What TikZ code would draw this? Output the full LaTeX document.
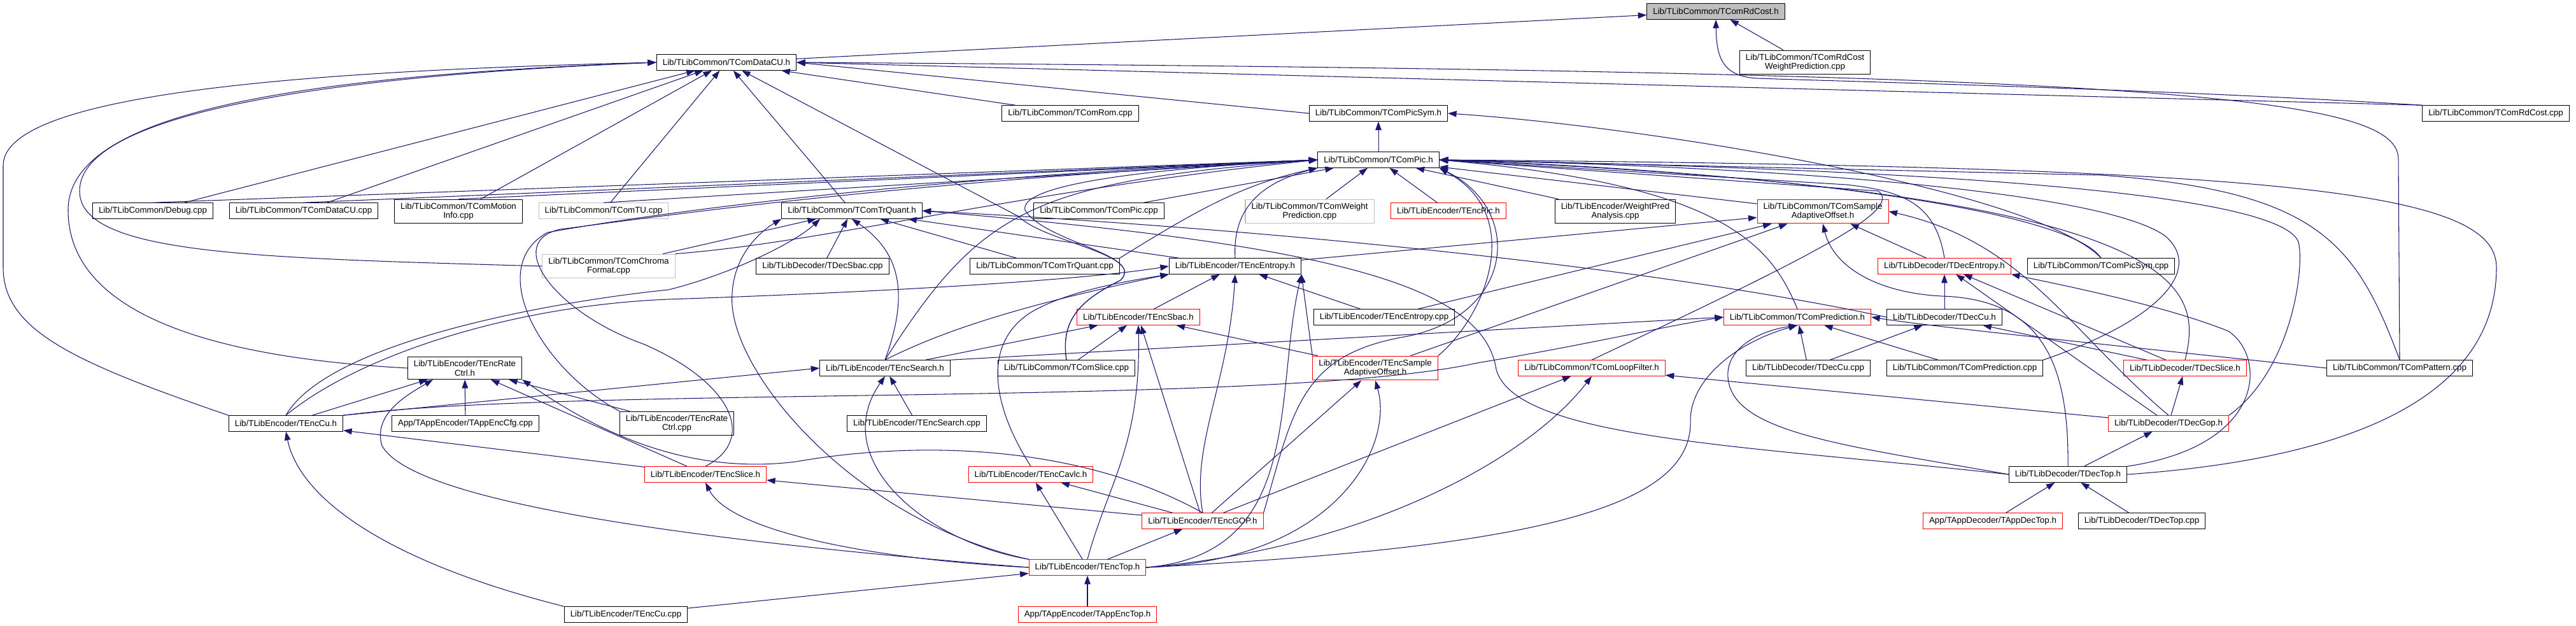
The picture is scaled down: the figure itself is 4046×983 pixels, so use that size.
\documentclass[tikz,border=0pt]{standalone}
\usepackage{fontspec}
\setmainfont{Liberation Sans}
\usepackage{xcolor}
\usepackage{tikz}
\usetikzlibrary{arrows.meta}
\definecolor{DGEdge}{HTML}{191970}
\definecolor{DGRoot}{HTML}{BFBFBF}
\definecolor{DGTrunc}{HTML}{FF0000}
\definecolor{DGNoDoc}{HTML}{BFBFBF}

\begin{document}
\begin{tikzpicture}[
  x=0.02cm, y=-0.02cm,
  box/.style={draw=black,line width=0.6pt,fill=white,font=\fontsize{7.6}{8.4}\selectfont,
              align=center,inner xsep=0.19cm,inner ysep=3pt,minimum height=0.49cm},
  root/.style={box,fill=DGRoot},
  trunc/.style={box,draw=DGTrunc},
  nodoc/.style={box,draw=DGNoDoc},
  dep/.style={-{Triangle[length=0.27cm,width=0.19cm]},line width=0.6pt,draw=DGEdge}
]
\useasboundingbox (0,0) rectangle (4046,983);
\node[root] (rdh) at (2695,18) {Lib/TLibCommon/TComRdCost.h};
\node[box] (rdwp) at (2835,98) {Lib/TLibCommon/TComRdCost\\WeightPrediction.cpp};
\node[box] (dcuh) at (1141,98) {Lib/TLibCommon/TComDataCU.h};
\node[box] (rom) at (1681,178) {Lib/TLibCommon/TComRom.cpp};
\node[box] (picsymh) at (2165,178) {Lib/TLibCommon/TComPicSym.h};
\node[box] (rdcpp) at (3920,178) {Lib/TLibCommon/TComRdCost.cpp};
\node[box] (pich) at (2165,251) {Lib/TLibCommon/TComPic.h};
\node[box] (debug) at (240,331) {Lib/TLibCommon/Debug.cpp};
\node[box] (dcucpp) at (477,331) {Lib/TLibCommon/TComDataCU.cpp};
\node[box] (motion) at (720,332) {Lib/TLibCommon/TComMotion\\Info.cpp};
\node[nodoc] (tu) at (948,331) {Lib/TLibCommon/TComTU.cpp};
\node[box] (trqh) at (1338,331) {Lib/TLibCommon/TComTrQuant.h};
\node[box] (piccpp) at (1726,331) {Lib/TLibCommon/TComPic.cpp};
\node[nodoc] (wpcpp) at (2057,332) {Lib/TLibCommon/TComWeight\\Prediction.cpp};
\node[trunc] (encpic) at (2275,331) {Lib/TLibEncoder/TEncPic.h};
\node[box] (wpa) at (2537,332) {Lib/TLibEncoder/WeightPred\\Analysis.cpp};
\node[trunc] (saoh) at (2863,332) {Lib/TLibCommon/TComSample\\AdaptiveOffset.h};
\node[nodoc] (chroma) at (956,418) {Lib/TLibCommon/TComChroma\\Format.cpp};
\node[box] (decsbac) at (1292,418) {Lib/TLibDecoder/TDecSbac.cpp};
\node[box] (trqcpp) at (1641,418) {Lib/TLibCommon/TComTrQuant.cpp};
\node[box] (entropyh) at (1940,418) {Lib/TLibEncoder/TEncEntropy.h};
\node[trunc] (decentropy) at (3054,418) {Lib/TLibDecoder/TDecEntropy.h};
\node[box] (picsymcpp) at (3300,418) {Lib/TLibCommon/TComPicSym.cpp};
\node[trunc] (sbach) at (1788,498) {Lib/TLibEncoder/TEncSbac.h};
\node[box] (entropycpp) at (2174,498) {Lib/TLibEncoder/TEncEntropy.cpp};
\node[trunc] (predh) at (2823,498) {Lib/TLibCommon/TComPrediction.h};
\node[box] (deccuh) at (3054,498) {Lib/TLibDecoder/TDecCu.h};
\node[box] (ratectrlh) at (730,578) {Lib/TLibEncoder/TEncRate\\Ctrl.h};
\node[box] (searchh) at (1390,578) {Lib/TLibEncoder/TEncSearch.h};
\node[box] (slicecpp) at (1675,578) {Lib/TLibCommon/TComSlice.cpp};
\node[trunc] (encsao) at (2160,578) {Lib/TLibEncoder/TEncSample\\AdaptiveOffset.h};
\node[trunc] (loopf) at (2500,578) {Lib/TLibCommon/TComLoopFilter.h};
\node[box] (deccucpp) at (2840,578) {Lib/TLibDecoder/TDecCu.cpp};
\node[box] (predcpp) at (3086,578) {Lib/TLibCommon/TComPrediction.cpp};
\node[trunc] (decslice) at (3432,578) {Lib/TLibDecoder/TDecSlice.h};
\node[box] (pattern) at (3769,578) {Lib/TLibCommon/TComPattern.cpp};
\node[box] (enccuh) at (449,665) {Lib/TLibEncoder/TEncCu.h};
\node[box] (appcfg) at (731,665) {App/TAppEncoder/TAppEncCfg.cpp};
\node[box] (ratectrlcpp) at (1063,665) {Lib/TLibEncoder/TEncRate\\Ctrl.cpp};
\node[box] (searchcpp) at (1440,665) {Lib/TLibEncoder/TEncSearch.cpp};
\node[trunc] (decgop) at (3406,665) {Lib/TLibDecoder/TDecGop.h};
\node[trunc] (encslice) at (1108,745) {Lib/TLibEncoder/TEncSlice.h};
\node[trunc] (cavlc) at (1619,745) {Lib/TLibEncoder/TEncCavlc.h};
\node[box] (dectop) at (3248,745) {Lib/TLibDecoder/TDecTop.h};
\node[trunc] (encgop) at (1889,818) {Lib/TLibEncoder/TEncGOP.h};
\node[trunc] (appdectop) at (3130,818) {App/TAppDecoder/TAppDecTop.h};
\node[box] (dectopcpp) at (3364,818) {Lib/TLibDecoder/TDecTop.cpp};
\node[trunc] (enctop) at (1708,891) {Lib/TLibEncoder/TEncTop.h};
\node[box] (enccucpp) at (983,965) {Lib/TLibEncoder/TEncCu.cpp};
\node[trunc] (appenctop) at (1708,965) {App/TAppEncoder/TAppEncTop.h};
\draw[dep] (dcuh) -- (rdh);
\draw[dep] (rdwp) -- (rdh);
\draw[dep] (rdcpp.north west) .. controls (3400,140) and (2900,128) .. (2760,123) .. controls (2705,120) and (2696,90) .. (rdh.south);
\draw[dep] (debug) -- (dcuh);
\draw[dep] (dcucpp) -- (dcuh);
\draw[dep] (motion) -- (dcuh);
\draw[dep] (tu) -- (dcuh);
\draw[dep] (trqh) -- (dcuh);
\draw[dep] (rom) -- (dcuh);
\draw[dep] (picsymh.west) -- (dcuh.east);
\draw[dep] (rdcpp.north west) -- (dcuh.east);
\draw[dep] (pattern.north) -- (3767,250) .. controls (3767,150) and (3400,112) .. (dcuh.east);
\draw[dep] (chroma.west) .. controls (400,405) and (125,400) .. (125,300) .. controls (125,180) and (500,120) .. (dcuh.west);
\draw[dep] (ratectrlh.west) .. controls (300,560) and (107,480) .. (107,330) .. controls (107,180) and (450,120) .. (dcuh.west);
\draw[dep] (enccuh.north west) .. controls (120,570) and (5,520) .. (5,420) -- (5,260) .. controls (5,150) and (450,112) .. (dcuh.west);
\draw[dep] (slicecpp.north) .. controls (1665,500) and (1700,470) .. (1760,440) .. controls (1800,400) and (1640,380) .. (1600,340) -- (dcuh);
\draw[dep] (pich) -- (picsymh);
\draw[dep] (picsymcpp.north) .. controls (3200,300) and (2600,200) .. (picsymh.east);
\draw[dep] (debug.north) -- (pich.west);
\draw[dep] (dcucpp.north) -- (pich.west);
\draw[dep] (motion.north) -- (pich.west);
\draw[dep] (tu.north) -- (pich.west);
\draw[dep] (chroma.north east) .. controls (1300,380) and (1600,300) .. (pich.west);
\draw[dep] (ratectrlcpp.north west) .. controls (850,580) and (760,420) .. (860,365) .. controls (1000,340) and (1400,280) .. (pich.west);
\draw[dep] (encslice.north) .. controls (1190,690) and (1150,600) .. (1010,540) .. controls (870,490) and (790,380) .. (880,360) .. controls (1000,345) and (1400,285) .. (pich.west);
\draw[dep] (piccpp) -- (pich);
\draw[dep] (wpcpp) -- (pich);
\draw[dep] (encpic) -- (pich);
\draw[dep] (wpa) -- (pich);
\draw[dep] (saoh) -- (pich);
\draw[dep] (trqcpp.north east) .. controls (1880,330) and (1950,290) .. (pich.south west);
\draw[dep] (entropyh.north) .. controls (1935,320) and (1990,285) .. (pich.south west);
\draw[dep] (searchh.north) .. controls (1540,330) and (1620,285) .. (pich.west);
\draw[dep] (slicecpp.north) .. controls (1665,500) and (1700,470) .. (1760,440) .. controls (1800,400) and (1640,380) .. (1610,330) .. controls (1600,290) and (1800,265) .. (pich.west);
\draw[dep] (encsao.north east) .. controls (2330,500) and (2400,340) .. (pich.south east);
\draw[dep] (encgop.north east) .. controls (2030,650) and (2040,560) .. (2200,530) .. controls (2380,500) and (2395,330) .. (pich.south east);
\draw[dep] (predh.north) .. controls (2780,380) and (2700,290) .. (pich.east);
\draw[dep] (loopf.north) .. controls (2850,400) and (2990,330) .. (2950,300) -- (pich.east);
\draw[dep] (decentropy.north) .. controls (3040,320) and (2990,300) .. (2900,290) -- (pich.east);
\draw[dep] (picsymcpp.north) .. controls (3250,330) and (2800,270) .. (pich.east);
\draw[dep] (predcpp.north east) .. controls (3400,500) and (3460,420) .. (3400,370) .. controls (3300,300) and (2800,262) .. (pich.east);
\draw[dep] (decslice.north) .. controls (3460,450) and (3450,300) .. (pich.east);
\draw[dep] (decgop.north east) .. controls (3600,580) and (3620,420) .. (3610,380) .. controls (3580,300) and (3000,265) .. (pich.east);
\draw[dep] (pattern.north) .. controls (3700,380) and (3640,300) .. (3300,275) -- (pich.east);
\draw[dep] (dectop.east) .. controls (3700,720) and (3921,620) .. (3921,420) .. controls (3921,300) and (3600,262) .. (pich.east);
\draw[dep] (decsbac) -- (trqh);
\draw[dep] (searchh.north) .. controls (1425,470) and (1420,400) .. (trqh.south);
\draw[dep] (trqcpp) -- (trqh);
\draw[dep] (entropyh) -- (trqh);
\draw[dep] (chroma) -- (trqh);
\draw[dep] (enccuh.north) .. controls (520,530) and (900,470) .. (1050,455) .. controls (1150,430) and (1250,380) .. ([xshift=-1cm]trqh.south);
\draw[dep] (deccuh.west) .. controls (2600,420) and (2000,360) .. (trqh.east);
\draw[dep] (dectop.west) .. controls (2750,700) and (2380,690) .. (2350,580) .. controls (2330,450) and (2100,385) .. (trqh.east);
\draw[dep] (enctop.north west) .. controls (1350,820) and (1160,600) .. (1150,480) .. controls (1145,400) and (1200,360) .. (trqh.south west);
\draw[dep] (sbach) -- (entropyh);
\draw[dep] (cavlc.north) .. controls (1560,640) and (1540,540) .. (1620,490) .. controls (1680,455) and (1780,440) .. (entropyh.south west);
\draw[dep] (entropycpp) -- (entropyh);
\draw[dep] (searchh.north) .. controls (1480,520) and (1600,480) .. (entropyh.south west);
\draw[dep] (enccuh.north) .. controls (560,560) and (800,480) .. (1050,470) .. controls (1400,458) and (1700,440) .. (entropyh.west);
\draw[dep] (encsao.north west) -- (entropyh.south east);
\draw[dep] (encgop.north) .. controls (1870,700) and (1930,600) .. (entropyh.south);
\draw[dep] (enctop.east) .. controls (2050,870) and (2000,620) .. (entropyh.south east);
\draw[dep] (searchh) -- (sbach);
\draw[dep] (slicecpp) -- (sbach);
\draw[dep] (encsao) -- (sbach);
\draw[dep] (encgop) -- (sbach);
\draw[dep] (enctop.north) .. controls (1740,760) and (1792,700) .. (sbach.south);
\draw[dep] (enccuh.north east) -- (searchh.west);
\draw[dep] (searchcpp) -- (searchh);
\draw[dep] (enctop.north west) .. controls (1450,850) and (1300,720) .. (searchh.south);
\draw[dep] (enccuh) -- (ratectrlh);
\draw[dep] (appcfg) -- (ratectrlh);
\draw[dep] (ratectrlcpp) -- (ratectrlh);
\draw[dep] (encslice) -- (ratectrlh);
\draw[dep] (encgop.north) .. controls (1700,700) and (1450,690) .. (1250,725) .. controls (1050,750) and (900,650) .. (ratectrlh.south east);
\draw[dep] (enctop.west) .. controls (1100,850) and (650,790) .. (600,700) .. controls (585,650) and (640,620) .. ([xshift=-1cm]ratectrlh.south);
\draw[dep] (encslice) -- (enccuh);
\draw[dep] (enccucpp.north west) .. controls (600,880) and (470,780) .. (enccuh.south);
\draw[dep] (encgop) -- (encslice);
\draw[dep] (enctop.west) .. controls (1400,880) and (1150,840) .. (encslice.south);
\draw[dep] (encgop) -- (cavlc);
\draw[dep] (enctop) -- (cavlc);
\draw[dep] (encgop) -- (encsao);
\draw[dep] (enctop.east) .. controls (2100,880) and (2190,700) .. (encsao.south);
\draw[dep] (encgop) -- (loopf);
\draw[dep] (enctop.east) .. controls (2150,860) and (2400,720) .. (loopf.south);
\draw[dep] (decgop) -- (loopf);
\draw[dep] (entropyh) -- (saoh);
\draw[dep] (entropycpp) -- (saoh);
\draw[dep] (encsao) -- (saoh);
\draw[dep] (decentropy) -- (saoh);
\draw[dep] (decgop.north) .. controls (3250,520) and (3180,380) .. (saoh.east);
\draw[dep] (dectop.north) .. controls (3250,560) and (3200,470) .. (3050,465) .. controls (2950,460) and (2880,420) .. (saoh.south);
\draw[dep] (searchh.north east) -- (predh.west);
\draw[dep] (enccuh.north east) .. controls (900,605) and (2000,640) .. (2320,570) .. controls (2500,540) and (2600,515) .. (predh.west);
\draw[dep] (enctop.east) .. controls (2400,860) and (2660,800) .. (2655,660) .. controls (2655,600) and (2720,540) .. (predh.south);
\draw[dep] (dectop.west) .. controls (2900,700) and (2730,680) .. (2715,600) .. controls (2705,550) and (2760,520) .. (predh.south);
\draw[dep] (deccucpp) -- (predh);
\draw[dep] (predcpp) -- (predh);
\draw[dep] (pattern.west) .. controls (3300,540) and (3050,515) .. (predh.east);
\draw[dep] (deccuh) -- (decentropy);
\draw[dep] (decslice) -- (decentropy);
\draw[dep] (decgop) -- (decentropy);
\draw[dep] (dectop.north east) .. controls (3560,700) and (3560,560) .. (3500,520) .. controls (3400,480) and (3250,450) .. (decentropy.south east);
\draw[dep] (decslice) -- (deccuh);
\draw[dep] (deccucpp) -- (deccuh);
\draw[dep] (decgop) -- (decslice);
\draw[dep] (dectop) -- (decgop);
\draw[dep] (appdectop) -- (dectop);
\draw[dep] (dectopcpp) -- (dectop);
\draw[dep] (enctop) -- (encgop);
\draw[dep] (appenctop) -- (enctop);
\draw[dep] (enccucpp) -- (enctop);
\end{tikzpicture}
\end{document}
